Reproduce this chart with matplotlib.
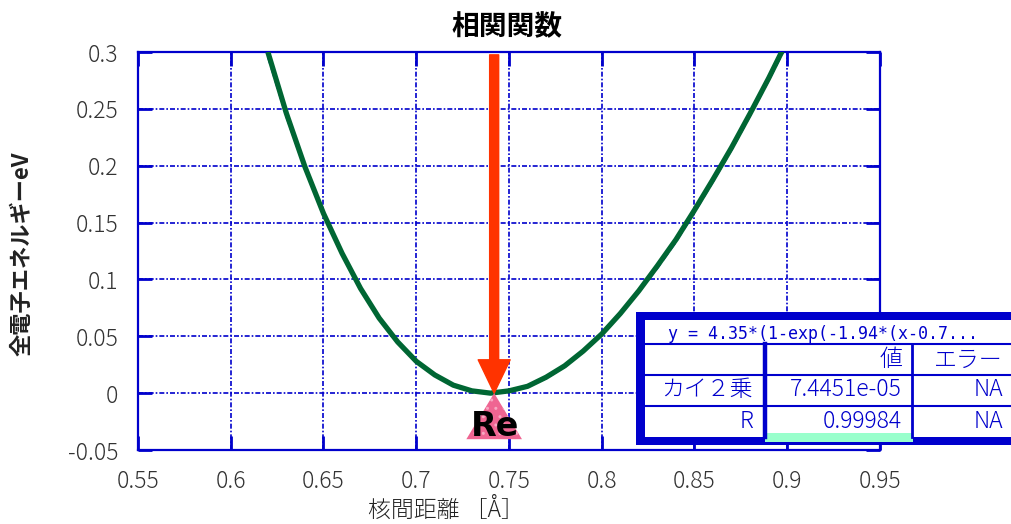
import matplotlib
matplotlib.use("Agg")
import matplotlib.pyplot as plt
from matplotlib.patches import Rectangle, Polygon
from matplotlib.lines import Line2D

plt.rcParams['font.family'] = ['Noto Sans CJK JP', 'DejaVu Sans']

# ---------------- data ----------------
title = "相関関数"
xlabel = "核間距離 ［Å］"
ylabel = "全電子エネルギーeV"

x_vals = [0.62, 0.63, 0.64, 0.65, 0.66, 0.67, 0.68, 0.69, 0.70, 0.71,
          0.72, 0.73, 0.74, 0.75, 0.76, 0.77, 0.78, 0.79, 0.80, 0.81,
          0.82, 0.83, 0.84, 0.85, 0.86, 0.87, 0.88, 0.89, 0.90]
energy_fit = [0.300, 0.246, 0.199, 0.158, 0.123, 0.092, 0.066, 0.045, 0.028, 0.016,
              0.007, 0.002, 0.000, 0.002, 0.006, 0.014, 0.024, 0.037, 0.052, 0.070,
              0.090, 0.112, 0.135, 0.161, 0.188, 0.216, 0.246, 0.277, 0.310]
energy_data = [0.296, 0.243, 0.197, 0.157, 0.122, 0.092, 0.066, 0.045, 0.028, 0.016,
               0.007, 0.002, 0.000, 0.002, 0.006, 0.013, 0.023, 0.036, 0.051, 0.069,
               0.089, 0.110, 0.133, 0.159, 0.186, 0.214, 0.244, 0.275, 0.307]
energy_calc = [0.301, 0.247, 0.200, 0.159, 0.123, 0.093, 0.066, 0.045, 0.028, 0.016,
               0.007, 0.002, 0.000, 0.002, 0.006, 0.014, 0.024, 0.037, 0.052, 0.070,
               0.090, 0.111, 0.134, 0.160, 0.187, 0.215, 0.245, 0.276, 0.309]
Re = 0.742

xticks = [0.55, 0.6, 0.65, 0.7, 0.75, 0.8, 0.85, 0.9, 0.95]
xticklabels = ["0.55", "0.6", "0.65", "0.7", "0.75", "0.8", "0.85", "0.9", "0.95"]
yticks = [-0.05, 0, 0.05, 0.1, 0.15, 0.2, 0.25, 0.3]
yticklabels = ["-0.05", "0", "0.05", "0.1", "0.15", "0.2", "0.25", "0.3"]

fit_equation = "y = 4.35*(1-exp(-1.94*(x-0.7..."
table_header = ["", "値", "エラー"]
table_rows = [["カイ２乗", "7.4451e-05", "NA"],
              ["R", "0.99984", "NA"]]

BLUE = '#0000cc'

# ---------------- figure ----------------
W, H = 1011, 524
fig = plt.figure(figsize=(W / 100, H / 100), dpi=100)
ax = fig.add_axes([138 / W, (H - 450) / H, 742 / W, 398 / H])

ax.plot(x_vals, energy_calc, color='#ff0000', lw=1.0, zorder=3)
ax.plot(x_vals, energy_data, color=BLUE, lw=1.5, ls=(0, (4, 2)), zorder=3)
ax.plot(x_vals, energy_fit, color='#006633', lw=3.8, zorder=4,
        solid_joinstyle='round', solid_capstyle='butt')

ax.set_xlim(0.55, 0.95)
ax.set_ylim(-0.05, 0.3)
ax.set_xticks(xticks)
ax.set_xticklabels(xticklabels)
ax.set_yticks(yticks)
ax.set_yticklabels(yticklabels)
ax.grid(True, color=BLUE, lw=1.2, ls=(0, (3, 1.2, 1, 1.2)))
for s in ax.spines.values():
    s.set_color(BLUE)
    s.set_linewidth(1.6)
ax.tick_params(direction='in', length=10, width=2, color=BLUE,
               top=True, right=True, labelsize=16.5, labelcolor='#333333')
for lab in ax.get_xticklabels() + ax.get_yticklabels():
    lab.set_fontweight('light')
ax.tick_params(axis='x', pad=14)
ax.tick_params(axis='y', pad=14)

fig.text(446 / W, 1 - 510 / H, xlabel, fontsize=16.5, fontweight='light',
         ha='center', va='center', color='#222222')
fig.text(22 / W, 1 - 254 / H, ylabel, fontsize=16, fontweight='bold',
         rotation=90, ha='center', va='center', color='#222222')

fig.text(507 / W, 1 - 27 / H, title, fontsize=20, fontweight='bold',
         ha='center', va='center')

# arrow pointing to Re
ax.annotate('', xy=(Re, 0.0), xytext=(Re, 0.2975),
            arrowprops=dict(arrowstyle='simple,head_length=2.4,head_width=2.3,tail_width=0.65',
                            color='#ff3300', shrinkA=0, shrinkB=0, mutation_scale=10),
            zorder=6)
tri = Polygon([(Re, 0.0), (Re - 0.0150, -0.0405), (Re + 0.0150, -0.0405)],
              closed=True, facecolor='#ef6592', edgecolor='#f7a8c2', lw=0,
              hatch='..', zorder=6)
ax.add_patch(tri)
ax.text(Re + 0.0005, -0.0295, "Re", fontsize=24, fontweight='bold', family='DejaVu Sans',
        ha='center', va='center', zorder=7)

# ---------------- result table (overlay in pixel space) ----------------
ov = fig.add_axes([0, 0, 1, 1], zorder=10)
ov.set_xlim(0, W)
ov.set_ylim(H, 0)
ov.axis('off')
ov.patch.set_visible(False)

ov.add_patch(Rectangle((636, 312), 400, 133, facecolor=BLUE, edgecolor='none'))
ov.add_patch(Rectangle((645, 320), 400, 117, facecolor='white', edgecolor='none'))
ov.add_line(Line2D([645, 1011], [344, 344], color=BLUE, lw=1.5))
ov.add_line(Line2D([645, 1011], [375, 375], color=BLUE, lw=1.5))
ov.add_line(Line2D([645, 1011], [406, 406], color=BLUE, lw=1.5))
ov.add_line(Line2D([765, 765], [344, 437], color=BLUE, lw=3.2))
ov.add_line(Line2D([911.5, 911.5], [344, 437], color=BLUE, lw=2.0))
ov.add_patch(Rectangle((765, 433), 148, 9, facecolor='#99ffcc', edgecolor='none'))

tfont = dict(color=BLUE, fontsize=16.5, fontweight='light')
ov.text(668, 334, fit_equation, ha='left', va='center', family='DejaVu Sans Mono',
        color=BLUE, fontsize=12)
col_right = [753, 902, 1003]
ov.text(col_right[1], 360, table_header[1], ha='right', va='center', **tfont)
ov.text(col_right[2], 360, table_header[2], ha='right', va='center', **tfont)
for r, row in enumerate(table_rows):
    yy = 390 + 31 * r
    for c, val in enumerate(row):
        ov.text(col_right[c], yy, val, ha='right', va='center', **tfont)

fig.savefig("out.png", dpi=100)
